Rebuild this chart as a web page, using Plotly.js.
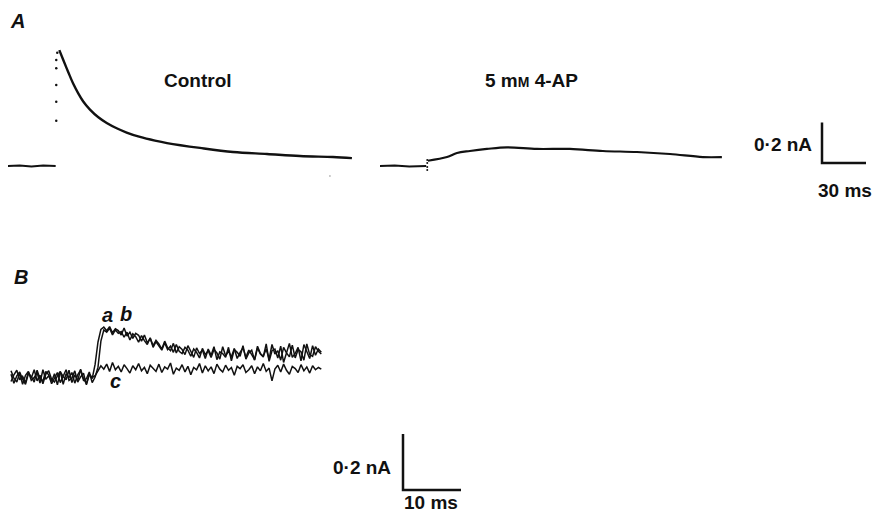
<!DOCTYPE html>
<html><head><meta charset="utf-8">
<script src="https://cdn.plot.ly/plotly-3.0.1.min.js"></script>
<style>html,body{margin:0;padding:0;background:#fff}#chart{width:877px;height:514px}</style>
</head><body><div id="chart"></div>
<script>
// ---------- Panel A : Control (time ms, current nA) ----------
const ctrlBaseT = [0, 8, 16, 24, 32.5];
const ctrlBaseI = [0, 0.003, -0.002, 0.002, 0];
const ctrlRiseT = [32.9, 32.9, 32.9, 32.9, 32.9, 33.6];
const ctrlRiseI = [0.223, 0.317, 0.399, 0.481, 0.522, 0.558];
const ctrlDecayT = [35.0, 37.7, 41.1, 44.5, 47.9, 51.3, 55.9, 61.6, 67.3, 74.1, 80.9, 90.0, 100.2, 108.4, 130.9, 153.4, 176.6, 199.0, 221.5, 234.5];
const ctrlDecayI = [0.571, 0.522, 0.462, 0.405, 0.358, 0.318, 0.278, 0.240, 0.212, 0.186, 0.165, 0.143, 0.125, 0.113, 0.089, 0.069, 0.059, 0.049, 0.044, 0.039];
const ctrlStrayT = [219.5];
const ctrlStrayI = [-0.049];

// ---------- Panel A : 5 mM 4-AP ----------
const apBaseT = [0, 10, 20, 31.5];
const apBaseI = [0, 0.002, -0.002, 0];
const apDotT = [32.2, 32.2, 32.2, 32.2];
const apDotI = [0.03, 0.015, -0.005, -0.02];
const apT = [32.7, 45.7, 52.5, 61.3, 72.9, 86.6, 107.0, 129.5, 152.0, 175.2, 197.7, 220.2, 233.1];
const apI = [0.026, 0.044, 0.064, 0.074, 0.084, 0.092, 0.084, 0.084, 0.074, 0.069, 0.059, 0.044, 0.044];

// ---------- Panel B : traces a, b, c (pA, sampled every 0.5 ms) ----------
const bDt = 0.5;
const traceA = [10,-22,4,18,-8,-26,12,2,-18,24,-6,-14,20,8,-24,-2,16,-20,6,26,-12,-4,22,-18,0,14,-28,10,-6,
  45,125,170,178,165,180,158,172,166,150,
  175,146,160,138,156,149,128,150,122,138,
  112,131,118,100,128,104,94,120,86,108,
  98,80,112,92,70,104,84,96,66,100,
  78,108,62,90,84,70,106,58,98,88,
  74,112,64,86,96,60,104,82,72,118,
  56,94,100,68,110,52,90,120,70,84,
  106,58,116,92,66,112,78,100,88];
const traceB = [-16,8,24,-10,2,-20,18,-4,26,-14,6,-24,10,22,-8,-18,4,20,-26,12,-2,16,-22,8,24,-12,-6,18,-20,
  0,35,128,168,160,174,150,168,156,162,
  142,160,132,154,144,124,148,130,116,140,
  106,126,112,96,122,98,110,88,116,92,
  84,106,96,74,100,88,68,102,80,94,
  70,98,86,64,108,76,92,72,102,66,
  88,104,70,96,80,62,110,84,74,100,
  64,116,82,94,60,106,86,72,114,68,
  98,90,60,118,80,74,108,92,82];
const traceC = [22,-4,-18,14,-26,6,20,-12,-2,16,-22,26,-8,4,-16,12,-28,18,2,-10,24,-20,8,-14,28,-6,-24,10,-2,
  5,22,40,28,46,20,52,26,38,18,
  44,30,14,40,26,48,22,34,12,42,
  30,20,46,16,36,28,50,10,32,24,
  44,18,38,8,34,26,48,14,40,22,
  36,12,46,28,18,42,24,34,6,38,
  30,44,16,26,40,12,36,22,48,20,
  32,-14,28,42,18,46,24,10,38,30,
  16,44,22,36,14,40,26,34,28];

// ---------- Scale bars ----------
const scaleA = {ms: 30, nA: 0.2, labelI: '0·2 nA', labelT: '30 ms'};
const scaleB = {ms: 10, nA: 0.2, labelI: '0·2 nA', labelT: '10 ms'};

// ---------- layout geometry ----------
const W = 877, H = 514;
const sxA = 44 / 30, syA = 40.6 / 0.2;   // px per ms, px per nA (panel A)
const sxB = 58 / 10, syB = 56 / 0.2;     // panel B
function xr(px0, s) { return [-px0 / s, (W - px0) / s]; }
function yr(py0, s) { return [-(H - py0) / s, py0 / s]; }
function ax(range, anchor) { return {range: range, domain: [0, 1], visible: false, fixedrange: true, anchor: anchor}; }

const tB = traceA.map((_, i) => i * bDt);
const toNA = v => v / 1000;
const ink = '#111';

const traces = [
  {x: ctrlBaseT, y: ctrlBaseI, xaxis: 'x', yaxis: 'y', mode: 'lines', line: {color: ink, width: 2}},
  {x: ctrlRiseT, y: ctrlRiseI, xaxis: 'x', yaxis: 'y', mode: 'markers', marker: {color: ink, size: 2.5}},
  {x: ctrlDecayT, y: ctrlDecayI, xaxis: 'x', yaxis: 'y', mode: 'lines', line: {color: ink, width: 2.4, shape: 'spline'}},
  {x: ctrlStrayT, y: ctrlStrayI, xaxis: 'x', yaxis: 'y', mode: 'markers', marker: {color: '#888', size: 1.5}},
  {x: apBaseT, y: apBaseI, xaxis: 'x2', yaxis: 'y2', mode: 'lines', line: {color: ink, width: 2}},
  {x: apDotT, y: apDotI, xaxis: 'x2', yaxis: 'y2', mode: 'markers', marker: {color: ink, size: 2}},
  {x: apT, y: apI, xaxis: 'x2', yaxis: 'y2', mode: 'lines', line: {color: ink, width: 2.2, shape: 'spline'}},
  {x: [0, 0, scaleA.ms], y: [scaleA.nA, 0, 0], xaxis: 'x3', yaxis: 'y3', mode: 'lines', line: {color: ink, width: 2.5}},
  {x: tB, y: traceA.map(toNA), xaxis: 'x4', yaxis: 'y4', mode: 'lines', line: {color: ink, width: 1.5}},
  {x: tB, y: traceB.map(toNA), xaxis: 'x4', yaxis: 'y4', mode: 'lines', line: {color: ink, width: 1.5}},
  {x: tB, y: traceC.map(toNA), xaxis: 'x4', yaxis: 'y4', mode: 'lines', line: {color: ink, width: 1.5}},
  {x: [0, 0, scaleB.ms], y: [scaleB.nA, 0, 0], xaxis: 'x5', yaxis: 'y5', mode: 'lines', line: {color: ink, width: 2.5}}
];

const txtFont = {family: 'Liberation Sans, Arial, sans-serif', size: 19, color: ink, weight: 'bold'};
const itFont = {family: 'Liberation Sans, Arial, sans-serif', size: 20, color: ink, weight: 'bold', style: 'italic'};
function ann(text, px, py, font) {
  return {text: text, x: px / W, y: 1 - py / H, xref: 'paper', yref: 'paper', showarrow: false,
          xanchor: 'center', yanchor: 'middle', font: font};
}

const layout = {
  width: W, height: H, margin: {l: 0, r: 0, t: 0, b: 0},
  paper_bgcolor: '#fff', plot_bgcolor: 'rgba(0,0,0,0)', showlegend: false,
  xaxis: ax(xr(8, sxA), 'y'), yaxis: ax(yr(166, syA), 'x'),
  xaxis2: ax(xr(380, sxA), 'y2'), yaxis2: ax(yr(166, syA), 'x2'),
  xaxis3: ax(xr(822, sxA), 'y3'), yaxis3: ax(yr(163, syA), 'x3'),
  xaxis4: ax(xr(11, sxB), 'y4'), yaxis4: ax(yr(377, syB), 'x4'),
  xaxis5: ax(xr(403, sxB), 'y5'), yaxis5: ax(yr(490, syB), 'x5'),
  annotations: [
    ann('A', 17, 21, itFont),
    ann('B', 21, 277, itFont),
    ann('Control', 198, 80, txtFont),
    ann("5 m<span style='font-size:14px'>M</span> 4-AP", 531, 80, txtFont),
    ann(scaleA.labelI, 783, 144, txtFont),
    ann(scaleA.labelT, 845, 190, txtFont),
    ann(scaleB.labelI, 362, 467, txtFont),
    ann(scaleB.labelT, 431, 502, txtFont),
    ann('a', 107, 315, itFont),
    ann('b', 126, 314, itFont),
    ann('c', 115, 381, itFont)
  ]
};

Plotly.newPlot('chart', traces, layout, {staticPlot: true, displayModeBar: false});
</script>
</body></html>
